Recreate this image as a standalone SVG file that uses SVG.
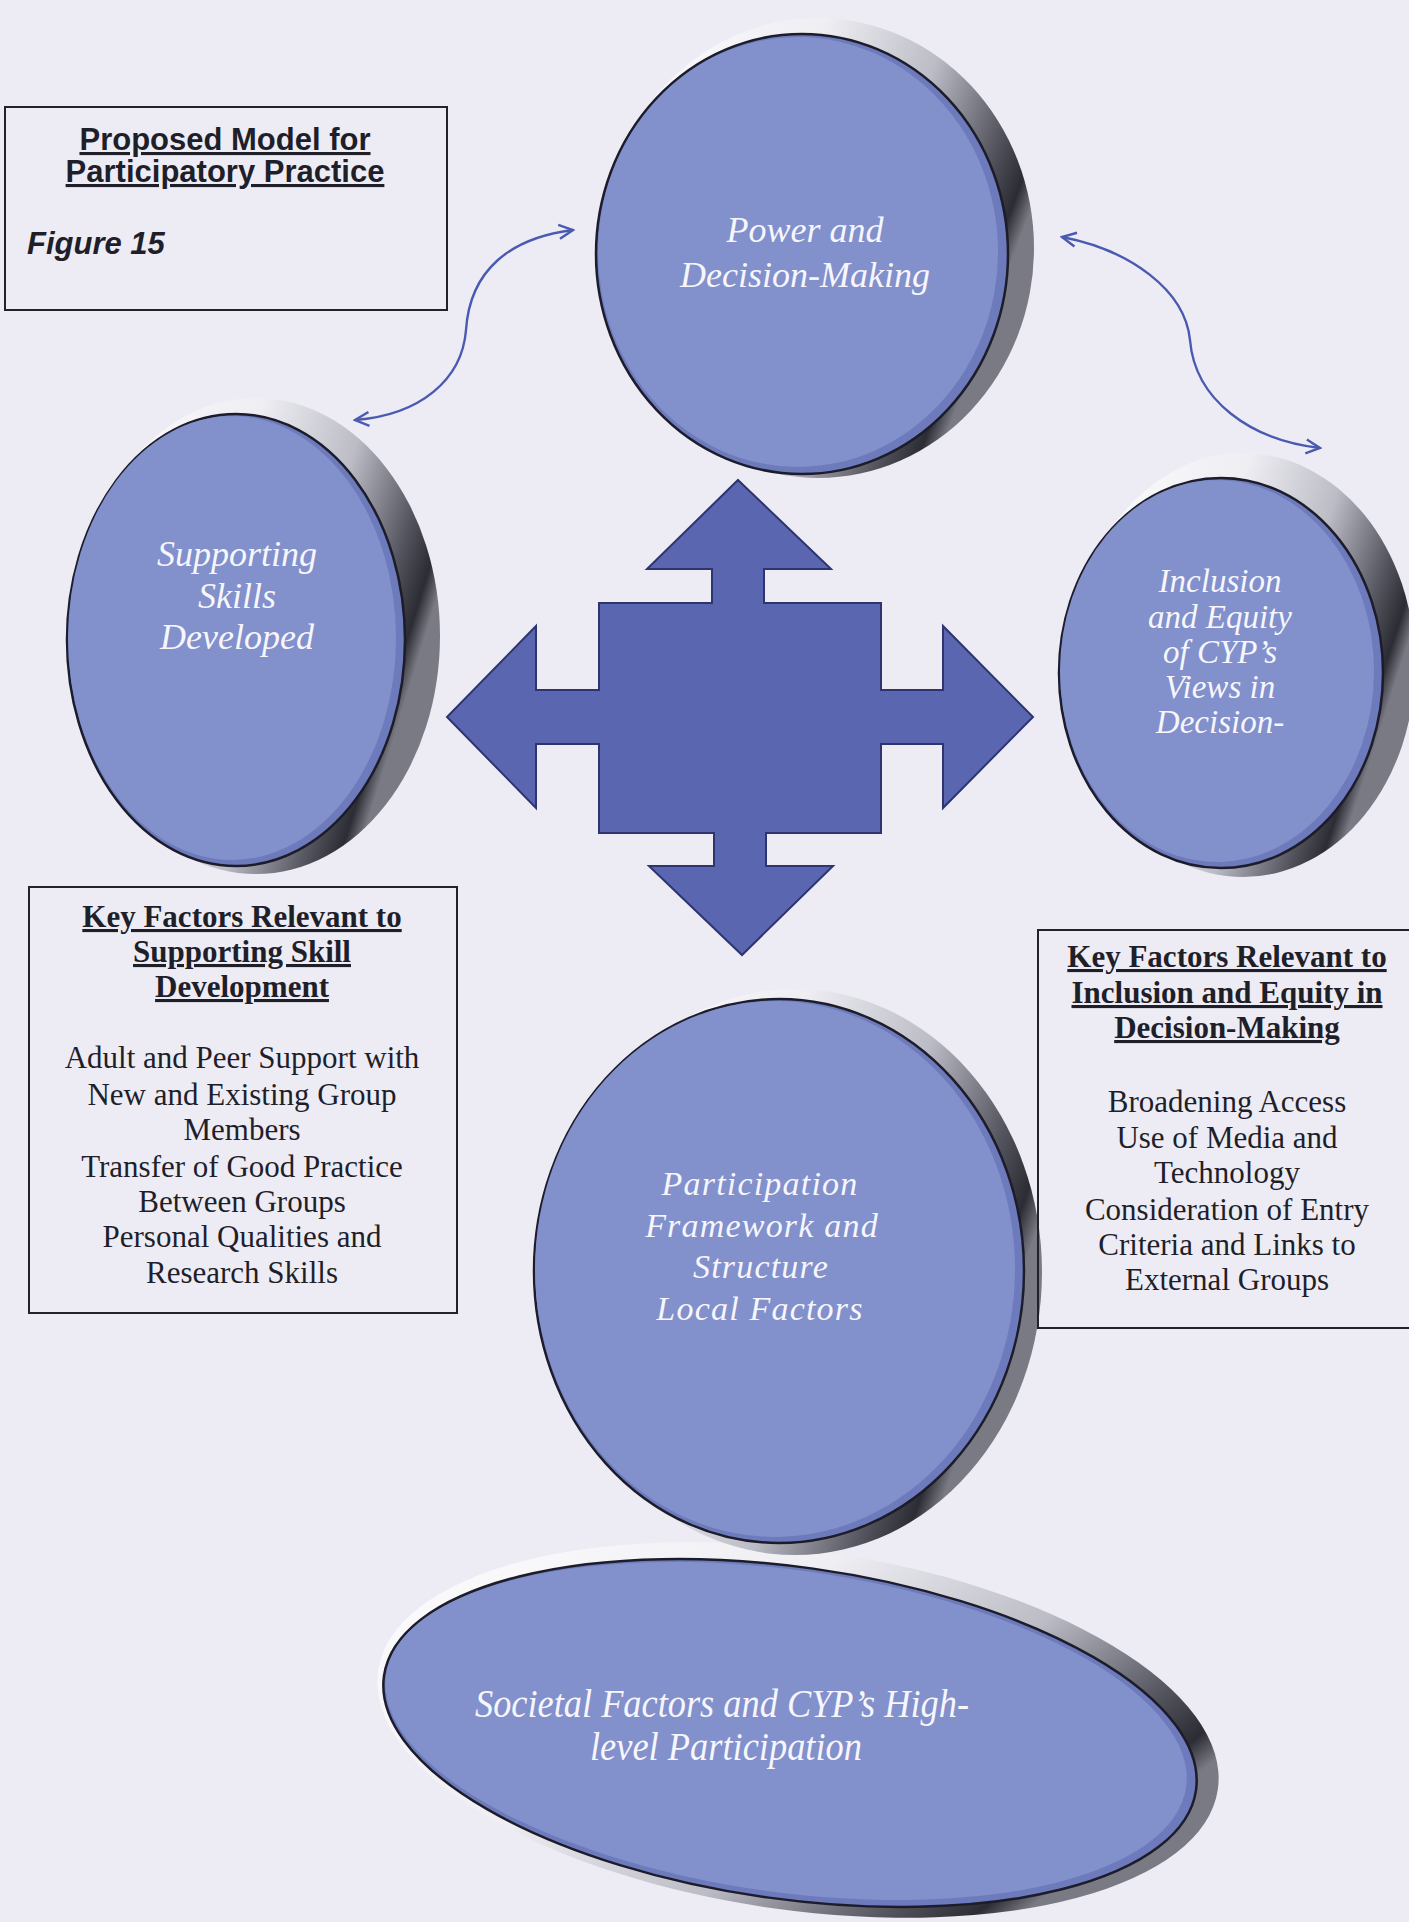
<svg xmlns="http://www.w3.org/2000/svg" width="1409" height="1922" viewBox="0 0 1409 1922">
<style>
.rim{fill:url(#rimG)}
.edge{fill:#6d7bbd;stroke:#1c1c2a;stroke-width:2.5}
.face{fill:#8290cb}
.lbl{font-family:"Liberation Serif","Times New Roman",serif;font-style:italic;fill:#f6f6fc;text-anchor:middle}
.box{fill:none;stroke:#22222c;stroke-width:2}
.kt{font-family:"Liberation Serif","Times New Roman",serif;font-weight:bold;font-size:31px;fill:#1f1f2a;text-anchor:middle;text-decoration:underline}
.kb{font-family:"Liberation Serif","Times New Roman",serif;font-size:31px;fill:#1f1f2a;text-anchor:middle}
.conn{fill:none;stroke:#4a5ab0;stroke-width:2.4;marker-start:url(#ah);marker-end:url(#ah)}
</style>
<defs>
<linearGradient id="rimG" x1="0" y1="0" x2="1" y2="0.4">
<stop offset="0" stop-color="#ffffff"/>
<stop offset="0.45" stop-color="#eeeef3"/>
<stop offset="0.7" stop-color="#bcbcc6"/>
<stop offset="0.88" stop-color="#55555f"/>
<stop offset="0.96" stop-color="#2c2c34"/>
<stop offset="1" stop-color="#7a7a84"/>
</linearGradient>
<marker id="ah" viewBox="0 0 18 18" refX="16" refY="9" markerWidth="18" markerHeight="18" markerUnits="userSpaceOnUse" orient="auto-start-reverse">
<path d="M2,2 L16,9 L2,16" fill="none" stroke="#4a5ab0" stroke-width="2.4"/>
</marker>
</defs>
<rect x="0" y="0" width="1409" height="1922" fill="#edecf5"/>

<g id="title">
<rect class="box" x="5" y="107" width="442" height="203"/>
<text x="225" y="150" font-family="'Liberation Sans',Arial,sans-serif" font-weight="bold" font-size="31" fill="#1f1f2a" text-anchor="middle" text-decoration="underline">Proposed Model for</text>
<text x="225" y="182" font-family="'Liberation Sans',Arial,sans-serif" font-weight="bold" font-size="31" fill="#1f1f2a" text-anchor="middle" text-decoration="underline">Participatory Practice</text>
<text x="27" y="254" font-family="'Liberation Sans',Arial,sans-serif" font-weight="bold" font-style="italic" font-size="31" fill="#1f1f2a">Figure 15</text>
</g>

<g id="connectors">
<path class="conn" d="M573,230 C510,238 470,270 466,330 C462,380 420,415 355,420"/>
<path class="conn" d="M1062,237 C1130,250 1185,290 1190,340 C1195,400 1250,440 1320,448"/>
</g>

<g id="quad-arrow">
<polygon points="738,480 831,569 764,569 764,603 881,603 881,690 943,690 943,626 1033,717 943,808 943,744 881,744 881,833 766,833 766,866 833,866 742,955 649,866 714,866 714,833 599,833 599,744 536,744 536,808 447,717 536,626 536,690 599,690 599,603 712,603 712,569 647,569" fill="#5a67b0" stroke="#2d3470" stroke-width="2"/>
</g>

<g id="power">
<ellipse class="rim" cx="818" cy="248" rx="216" ry="230"/>
<ellipse class="edge" cx="802" cy="254" rx="206" ry="220"/>
<ellipse class="face" cx="798" cy="252" rx="200" ry="215"/>
<text class="lbl" font-size="36" x="805" y="242">Power and</text>
<text class="lbl" font-size="36" x="805" y="287">Decision-Making</text>
</g>

<g id="skills">
<ellipse class="rim" cx="256" cy="636" rx="184" ry="238"/>
<ellipse class="edge" cx="236" cy="640" rx="169" ry="226"/>
<ellipse class="face" cx="232" cy="638" rx="164" ry="222"/>
<text class="lbl" font-size="36" x="237" y="566">Supporting</text>
<text class="lbl" font-size="36" x="237" y="608">Skills</text>
<text class="lbl" font-size="36" x="237" y="649">Developed</text>
</g>

<g id="inclusion">
<ellipse class="rim" cx="1243" cy="665" rx="172" ry="212"/>
<ellipse class="edge" cx="1221" cy="673" rx="162" ry="195"/>
<ellipse class="face" cx="1217" cy="671" rx="157" ry="191"/>
<text class="lbl" font-size="33" x="1220" y="592">Inclusion</text>
<text class="lbl" font-size="33" x="1220" y="628">and Equity</text>
<text class="lbl" font-size="33" x="1220" y="663">of CYP’s</text>
<text class="lbl" font-size="33" x="1220" y="698">Views in</text>
<text class="lbl" font-size="33" x="1220" y="733">Decision-</text>
</g>

<g id="societal">
<ellipse class="rim" cx="798" cy="1730" rx="424" ry="180" transform="rotate(8 798 1730)"/>
<ellipse class="edge" cx="790" cy="1733" rx="410" ry="166" transform="rotate(8 790 1733)"/>
<ellipse class="face" cx="786" cy="1731" rx="404" ry="161" transform="rotate(8 786 1731)"/>
<text class="lbl" font-size="40" x="722" y="1717" textLength="494" lengthAdjust="spacingAndGlyphs">Societal Factors and CYP’s High-</text>
<text class="lbl" font-size="40" x="726" y="1760" textLength="272" lengthAdjust="spacingAndGlyphs">level Participation</text>
</g>

<g id="participation">
<ellipse class="rim" cx="795" cy="1272" rx="247" ry="283"/>
<ellipse class="edge" cx="779" cy="1271" rx="245" ry="272"/>
<ellipse class="face" cx="775" cy="1269" rx="240" ry="268"/>
<text class="lbl" font-size="34" letter-spacing="1.2" x="760" y="1195">Participation</text>
<text class="lbl" font-size="34" letter-spacing="1.2" x="762" y="1237">Framework and</text>
<text class="lbl" font-size="34" letter-spacing="1.2" x="761" y="1278">Structure</text>
<text class="lbl" font-size="34" letter-spacing="1.2" x="760" y="1320">Local Factors</text>
</g>

<g id="key-skills">
<rect class="box" x="29" y="887" width="428" height="426"/>
<text class="kt" x="242" y="927">Key Factors Relevant to</text>
<text class="kt" x="242" y="962">Supporting Skill</text>
<text class="kt" x="242" y="997">Development</text>
<text class="kb" x="242" y="1068">Adult and Peer Support with</text>
<text class="kb" x="242" y="1105">New and Existing Group</text>
<text class="kb" x="242" y="1140">Members</text>
<text class="kb" x="242" y="1177">Transfer of Good Practice</text>
<text class="kb" x="242" y="1212">Between Groups</text>
<text class="kb" x="242" y="1247">Personal Qualities and</text>
<text class="kb" x="242" y="1283">Research Skills</text>
</g>

<g id="key-inclusion">
<rect class="box" x="1038" y="930" width="400" height="398"/>
<text class="kt" x="1227" y="967">Key Factors Relevant to</text>
<text class="kt" x="1227" y="1003">Inclusion and Equity in</text>
<text class="kt" x="1227" y="1038">Decision-Making</text>
<text class="kb" x="1227" y="1112">Broadening Access</text>
<text class="kb" x="1227" y="1148">Use of Media and</text>
<text class="kb" x="1227" y="1183">Technology</text>
<text class="kb" x="1227" y="1220">Consideration of Entry</text>
<text class="kb" x="1227" y="1255">Criteria and Links to</text>
<text class="kb" x="1227" y="1290">External Groups</text>
</g>
</svg>
